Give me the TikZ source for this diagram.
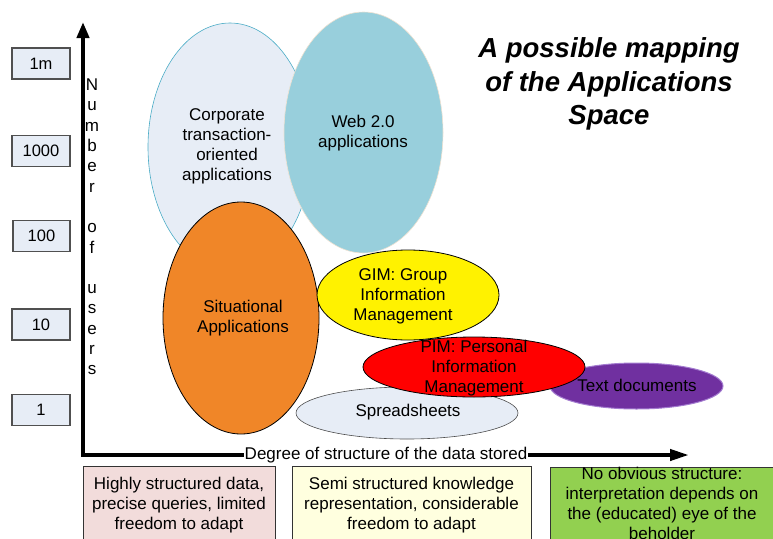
\documentclass[tikz,border=0pt]{standalone}
\usepackage{fontspec}
\setmainfont{Liberation Sans}
\usetikzlibrary{arrows.meta}
\definecolor{lightfill}{HTML}{E7EDF6}
\definecolor{corpborder}{HTML}{4BACC6}
\definecolor{webfill}{HTML}{98CFDC}
\definecolor{webborder}{HTML}{EFE2D2}
\definecolor{orangefill}{HTML}{F08628}
\definecolor{purplefill}{HTML}{7030A0}
\definecolor{purpleborder}{HTML}{A47CD0}
\definecolor{pinkfill}{HTML}{F2DCDB}
\definecolor{creamfill}{HTML}{FFFFDF}
\definecolor{greenfill}{HTML}{92D050}
\definecolor{tickborder}{HTML}{505050}
\begin{document}
\begin{tikzpicture}[x=1pt,y=-1pt,
  txt/.style={font=\fontsize{17}{20}\selectfont, align=center, inner sep=0pt},
  tickbox/.style={draw=tickborder, fill=lightfill, line width=1.3pt, minimum width=58pt, minimum height=31pt, inner sep=0pt, font=\fontsize{16.5}{19}\selectfont},
  catbox/.style={draw=black!80, line width=0.8pt, inner sep=0pt, anchor=north west},
  axis/.style={line width=4pt, line join=miter},
  blob/.style={line width=0.8pt}
]
\useasboundingbox (0,0) rectangle (773,538);

% ellipses
\filldraw[blob, fill=lightfill, draw=corpborder, line width=0.6pt] (230,147) ellipse [x radius=82, y radius=124];
\filldraw[blob, fill=webfill, draw=webborder, line width=0.6pt] (363.5,132.5) ellipse [x radius=79.5, y radius=120.5];
\filldraw[blob, fill=orangefill, draw=black] (241,318) ellipse [x radius=78, y radius=116];
\filldraw[blob, fill=yellow, draw=black] (408,295) ellipse [x radius=91, y radius=45];
\filldraw[blob, fill=lightfill, draw=black!70, line width=0.6pt] (407,413) ellipse [x radius=111, y radius=26];
\filldraw[blob, fill=purplefill, draw=purpleborder, line width=1pt] (636.5,386) ellipse [x radius=86.5, y radius=23];
\filldraw[blob, fill=red, draw=black] (474,367) ellipse [x radius=111, y radius=30];

% ellipse labels
\node[txt] (corp) at (227,146) {Corporate\\transaction-\\oriented\\applications};
\node[txt] (web) at (363,133) {Web 2.0\\applications};
\node[txt] (sit) at (243,318) {Situational\\Applications};
\node[txt] (gim) at (403,296) {GIM: Group\\Information\\Management};
\node[txt] (pim) at (474,368) {PIM: Personal\\Information\\Management};
\node[txt] (spread) at (408,412) {Spreadsheets};
\node[txt] (textdoc) at (637,385) {Text documents};

% axes
\coordinate (ytip) at (83,22);
\coordinate (origin) at (83,455);
\coordinate (xtip) at (689,455);
\draw[axis, {Triangle[length=16pt,width=12pt]}-{Triangle[length=19pt,width=11pt]}] (ytip) |- (xtip);
\node[txt, fill=white, inner xsep=1pt, inner ysep=1pt] (xlabel) at (386,455) {Degree of structure of the data stored};
\node[txt, font=\fontsize{17}{20.3}\selectfont] (ylabel) at (92,227) {N\\u\\m\\b\\e\\r\\\mbox{}\\o\\f\\\mbox{}\\u\\s\\e\\r\\s};

% tick boxes
\node[tickbox] (t1m) at (41,63.5) {1m};
\node[tickbox] (t1000) at (41,151) {1000};
\node[tickbox, minimum width=57pt] (t100) at (41.5,236) {100};
\node[tickbox] (t10) at (41,324.5) {10};
\node[tickbox] (t1) at (41,410) {1};

% category boxes
\node[catbox, fill=pinkfill, minimum width=192pt, minimum height=80pt] (cat1) at (83,466) {};
\node[catbox, fill=creamfill, minimum width=239pt, minimum height=80pt] (cat2) at (292,466) {};
\node[catbox, fill=greenfill, minimum width=235pt, minimum height=80pt] (cat3) at (550,467) {};
\node[txt] (cat1t) at (179,505) {Highly structured data,\\precise queries, limited\\freedom to adapt};
\node[txt] (cat2t) at (411.5,505) {Semi structured knowledge\\representation, considerable\\freedom to adapt};
\node[txt] (cat3t) at (662,503) {No obvious structure:\\interpretation depends on\\the (educated) eye of the\\beholder};

% title
\node[txt, font=\fontsize{27.5}{33.5}\selectfont\bfseries\itshape] (title) at (609,84) {A possible mapping\\of the Applications\\Space};
\end{tikzpicture}
\end{document}
